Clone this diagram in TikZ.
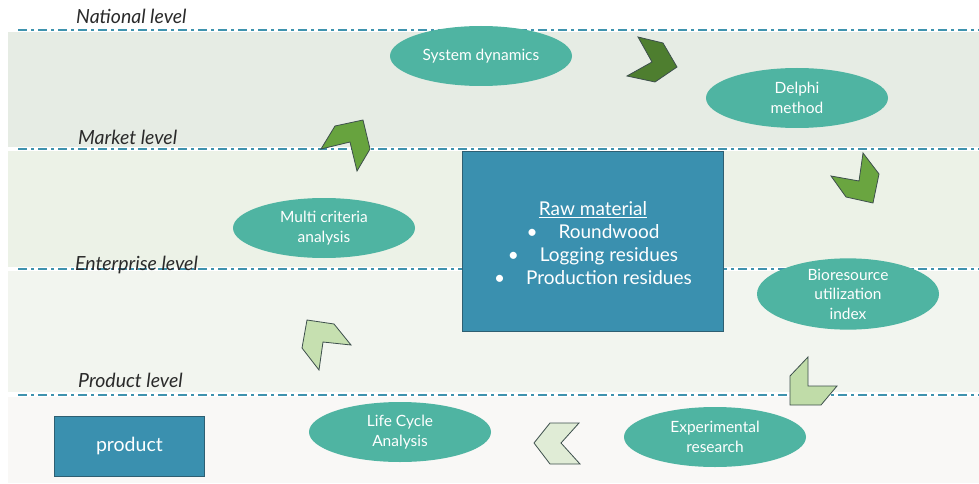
\documentclass[tikz,border=0pt]{standalone}
\usepackage{fontspec}
\setmainfont{Lato}
\usetikzlibrary{shapes.geometric}
\definecolor{bandA}{HTML}{E6ECE4}
\definecolor{bandB}{HTML}{ECF2E7}
\definecolor{bandC}{HTML}{F2F5EF}
\definecolor{bandD}{HTML}{F9F8F6}
\definecolor{lineblue}{HTML}{3F93AE}
\definecolor{ellfill}{HTML}{4FB4A2}
\definecolor{boxfill}{HTML}{3A90AF}
\definecolor{boxedge}{HTML}{2E5F72}
\definecolor{arrA}{HTML}{67A33E}
\definecolor{arrB}{HTML}{4E7E2F}
\definecolor{arrC}{HTML}{6AA540}
\definecolor{arrD}{HTML}{C0DCA8}
\definecolor{arrE}{HTML}{E0ECD6}
\definecolor{arrF}{HTML}{C6E0B0}
\definecolor{arredge}{HTML}{3D4F4C}
\definecolor{labelgray}{HTML}{2A2A2A}
\tikzset{
  band/.style={fill=#1, draw=none},
  levelline/.style={lineblue, line width=2.5pt, dash pattern=on 9pt off 4pt on 3pt off 4pt},
  levellabel/.style={anchor=base west, font=\fontsize{19.5}{22}\selectfont\itshape, text=labelgray, inner sep=0pt},
  method/.style={ellipse, fill=ellfill, draw=none, minimum width=182pt, minimum height=60pt, inner sep=0pt, text=white, align=center, font=\fontsize{15.5}{19.5}\selectfont},
  bluebox/.style={rectangle, fill=boxfill, draw=boxedge, line width=0.8pt, text=white, align=center},
  chevron/.style={fill=#1, draw=arredge, line width=0.8pt, line join=miter},
}
\begin{document}
\begin{tikzpicture}[x=1pt,y=-1pt]
\useasboundingbox (0,0) rectangle (979,484);
\fill[white] (0,0) rectangle (979,484);
% bands
\path[band=bandA] (8,32) rectangle (979,147);
\path[band=bandB] (8,151) rectangle (979,267);
\path[band=bandC] (8,271) rectangle (979,392);
\path[band=bandD] (8,397) rectangle (979,483);
% level lines
\coordinate (l1a) at (18,30);  \coordinate (l1b) at (979,30);
\coordinate (l2a) at (18,149); \coordinate (l2b) at (979,149);
\coordinate (l3a) at (18,269); \coordinate (l3b) at (979,269);
\coordinate (l4a) at (18,395); \coordinate (l4b) at (979,395);
\draw[levelline] (l1a) -- (l1b);
\draw[levelline] (l2a) -- (l2b);
\draw[levelline] (l3a) -- (l3b);
\draw[levelline] (l4a) -- (l4b);
% level labels
\node[levellabel] (natl) at (76,24) {National level};
\node[levellabel] (mrkt) at (78,144) {Market level};
\node[levellabel] (entr) at (75,270) {Enterprise level};
\node[levellabel] (prod) at (78,387) {Product level};
% boxes
\node[bluebox, minimum width=261pt, minimum height=180pt, anchor=north west] (raw) at (462,151) {};
\node[text=white, align=center, font=\fontsize{19}{23}\selectfont, inner sep=0pt] (rawtext) at (593,243)
  {\underline{Raw material}\\
   \textbullet\hspace{1.1em}Roundwood\\
   \textbullet\hspace{1.1em}Logging residues\\
   \textbullet\hspace{1.1em}Production residues};
\node[bluebox, minimum width=150pt, minimum height=60pt, anchor=north west, font=\fontsize{19.5}{22}\selectfont] (product) at (54,416) {product};
% methods
\node[method] (sd) at (481,56) {System dynamics};
\node[method] (delphi) at (797,98) {Delphi\\method};
\node[method] (mca) at (324,228) {Multi criteria\\analysis};
\node[method] (bui) at (848,294) {Bioresource\\utilization\\index};
\node[method] (exp) at (715,437) {Experimental\\research};
\node[method] (lca) at (400,432) {Life Cycle\\Analysis};
% chevrons
\draw[chevron=arrA] (321,149) -- (335,126) -- (363,120) -- (370,149) -- (357,171) -- (350,142) -- cycle;
\draw[chevron=arrB] (638,37) -- (663,43) -- (677,67) -- (655,82) -- (627,76) -- (652,62) -- cycle;
\draw[chevron=arrC] (863,153) -- (879,174) -- (873,203) -- (846,197) -- (831,176) -- (859,181) -- cycle;
\draw[chevron=arrD] (808,357) -- (808,386) -- (837,386) -- (821,405) -- (790,405) -- (790,376) -- cycle;
\draw[chevron=arrE] (550,423) -- (579,423) -- (561,443) -- (580,464) -- (550,464) -- (534,443) -- cycle;
\draw[chevron=arrF] (307,320) -- (334,324) -- (351,345) -- (323,342) -- (319,370) -- (302,348) -- cycle;
\end{tikzpicture}
\end{document}
